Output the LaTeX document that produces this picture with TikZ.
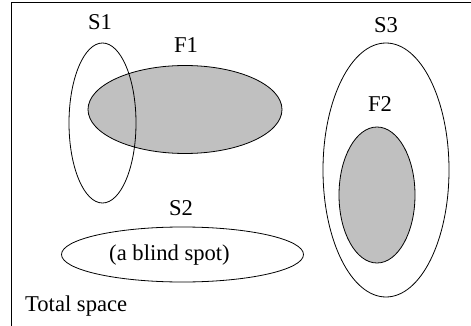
\documentclass[tikz,border=0pt]{standalone}
\usepackage{fontspec}
\setmainfont{Liberation Serif}
\newfontfamily\lserif{Liberation Serif}
\usetikzlibrary{shapes.geometric}
\definecolor{fillgray}{HTML}{C0C0C0}
\begin{document}
\begin{tikzpicture}[x=1pt,y=-1pt,
  region/.style={ellipse, draw=black, line width=0.8pt, inner sep=0pt},
  filled/.style={region, fill=fillgray},
  lbl/.style={anchor=base, inner sep=0pt, font=\lserif\fontsize{22.6}{27}\selectfont}]
\useasboundingbox (0,0) rectangle (471,326);
\draw[line width=0.8pt] (471,2) -- (11,2) -- (11,326);
\node[filled, minimum width=194pt, minimum height=88pt] (f1) at (185,109.5) {};
\node[region, minimum width=67pt, minimum height=160pt] (s1) at (102.5,123) {};
\node[region, minimum width=126pt, minimum height=254pt] (s3) at (386,170) {};
\node[filled, minimum width=76pt, minimum height=136pt] (f2) at (377,195) {};
\node[region, minimum width=242pt, minimum height=55pt] (s2) at (182.5,254.5) {};
\node[lbl] (s1l) at (100,30) {S1};
\node[lbl] (f1l) at (186,53) {F1};
\node[lbl] (s3l) at (386,32.5) {S3};
\node[lbl] (f2l) at (380,111.5) {F2};
\node[lbl] (s2l) at (181,215) {S2};
\node[lbl] (bs) at (169.5,260) {(a blind spot)};
\node[lbl, anchor=base west] (ts) at (25,311) {Total space};
\end{tikzpicture}
\end{document}
